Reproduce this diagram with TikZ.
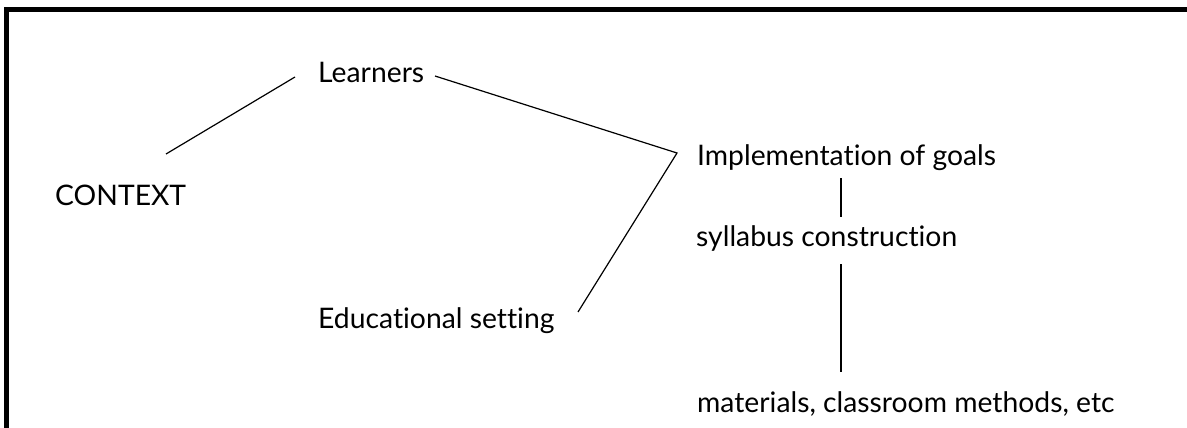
\documentclass[tikz,border=0pt]{standalone}
\usepackage{fontspec}
\setmainfont{Lato}[Ligatures=NoCommon]
\begin{document}
\begin{tikzpicture}[x=1pt,y=-1pt,
  lbl/.style={anchor=base west,inner sep=0pt,font=\fontsize{28.3}{32}\selectfont},
  link/.style={line width=1.2pt},
  frame/.style={line width=5pt}]
\useasboundingbox (0,0) rectangle (1187,428);
\draw[frame] (6.5,428) -- (6.5,9.5) -- (1187,9.5);
\node[lbl] (learn) at (318,82) {Learners};
\node[lbl] (ctx) at (55,205) {CONTEXT};
\node[lbl] (impl) at (697,165) {Implementation of goals};
\node[lbl] (syl) at (696,246) {syllabus construction};
\node[lbl] (mat) at (697,412) {materials, classroom methods, etc};
\node[lbl] (edu) at (318,328) {Educational setting};
\coordinate (ctxE) at (166,154);
\coordinate (learnW) at (295,77);
\coordinate (learnE) at (435,76);
\coordinate (jn) at (677,153);
\coordinate (eduE) at (578,312);
\coordinate (implS) at (841,178);
\coordinate (sylN) at (841,217);
\coordinate (sylS) at (841,264);
\coordinate (matN) at (841,372);
\draw[link] (ctxE) -- (learnW);
\draw[link] (learnE) -- (jn) -- (eduE);
\draw[link] (implS) -- (sylN);
\draw[link] (sylS) -- (matN);
\end{tikzpicture}
\end{document}
